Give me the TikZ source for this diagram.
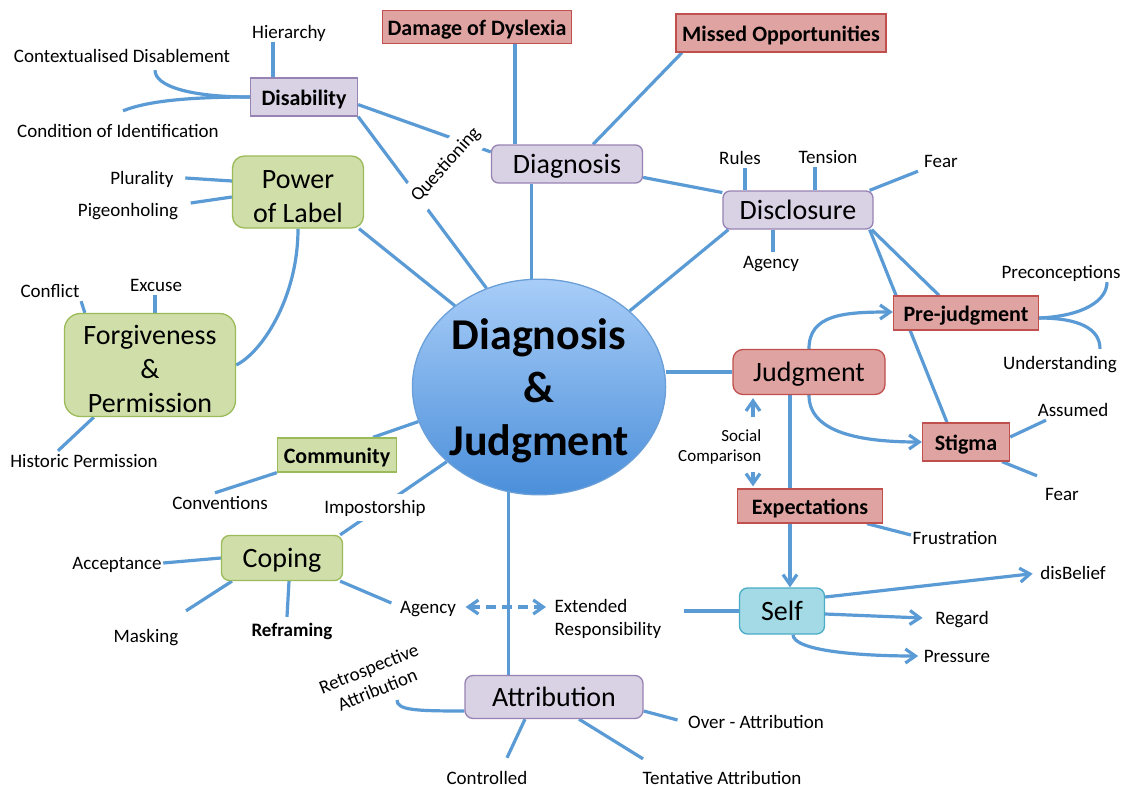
\documentclass[tikz,border=0pt]{standalone}
\usepackage{fontspec}
\setmainfont{Carlito}
\usetikzlibrary{arrows.meta,shapes.geometric}
\pgfdeclarelayer{paper}
\pgfdeclarelayer{edges}
\pgfsetlayers{paper,edges,main}

\definecolor{linkblue}{HTML}{5B9BD5}
\definecolor{pinkfill}{HTML}{DFA3A2}
\definecolor{pinkline}{HTML}{C0504D}
\definecolor{lavfill}{HTML}{D9D1E4}
\definecolor{lavline}{HTML}{9783B3}
\definecolor{greenfill}{HTML}{D0DEAA}
\definecolor{greenline}{HTML}{9BBB59}
\definecolor{cyanfill}{HTML}{A3DAE5}
\definecolor{cyanline}{HTML}{4BACC6}
\definecolor{balltop}{HTML}{A8CDF8}
\definecolor{ballbot}{HTML}{4B8FDA}
\definecolor{ballline}{HTML}{6A9FD8}

\newcommand\labelfs{\fontsize{19}{23}\selectfont}
\newcommand\notefs{\fontsize{17}{20}\selectfont}
\newcommand\headfs{\fontsize{22}{26}\selectfont\bfseries}
\newcommand\bigfs{\fontsize{28}{33.6}\selectfont}
\newcommand\hubfs{\fontsize{44}{53}\selectfont\bfseries}
% extra height on a first line pushes a multi-line block down a little
\newcommand\toplift[1]{\rule{0pt}{#1}}

\begin{document}
\begin{tikzpicture}[x=1pt,y=-1pt,
  conn/.style={draw=linkblue, line width=3.2pt},
  barb/.tip={Straight Barb[length=10pt,width=14pt]},
  tipend/.style={-barb},
  box/.style={draw, line width=1.3pt, inner sep=0pt, align=center},
  pinkbox/.style={box, fill=pinkfill, draw=pinkline},
  lavbox/.style={box, fill=lavfill, draw=lavline},
  greenbox/.style={box, fill=greenfill, draw=greenline},
  cyanbox/.style={box, fill=cyanfill, draw=cyanline},
  headtext/.style={font=\headfs, text height=18pt, text depth=2pt},
  bigtext/.style={font=\bigfs, text height=23pt, text depth=4pt},
  lbl/.style={font=\labelfs, inner sep=1.5pt, text height=15pt, text depth=2pt},
  boldlbl/.style={lbl, font=\labelfs\bfseries},
  note/.style={font=\notefs, inner sep=1.5pt, align=center}]

\begin{pgfonlayer}{paper}
\fill[white] (0,0) rectangle (1125,787);
\end{pgfonlayer}
\useasboundingbox (0,0) rectangle (1125,787);

% hub
\node[ellipse, minimum width=244pt, minimum height=212pt, inner sep=0pt,
      draw=ballline, line width=1.3pt, top color=balltop, bottom color=ballbot,
      font=\hubfs, align=center] (ctr) at (539,387) {\toplift{39pt}Diagnosis\\\&\\Judgment};

% boxes
\node[pinkbox, headtext, minimum width=189pt, minimum height=33pt] (dd) at (477,27) {Damage of Dyslexia};
\node[pinkbox, headtext, minimum width=210pt, minimum height=38pt] (mo) at (781,33) {Missed Opportunities};
\node[lavbox, headtext, minimum width=107pt, minimum height=38pt] (dis) at (304,97) {Disability};
\node[lavbox, rounded corners=7pt, bigtext, minimum width=151pt, minimum height=38pt] (diag) at (567,164) {Diagnosis};
\node[lavbox, rounded corners=7pt, bigtext, minimum width=150pt, minimum height=38pt] (discl) at (798,210) {Disclosure};
\node[pinkbox, headtext, minimum width=145pt, minimum height=34pt] (pre) at (966,313) {Pre-judgment};
\node[pinkbox, rounded corners=10pt, bigtext, minimum width=152pt, minimum height=45pt] (jud) at (809,372) {Judgment};
\node[pinkbox, headtext, minimum width=87pt, minimum height=38pt] (stig) at (966,442) {Stigma};
\node[pinkbox, headtext, minimum width=145pt, minimum height=34pt] (exp) at (810,506) {Expectations};
\node[cyanbox, rounded corners=8pt, bigtext, minimum width=85pt, minimum height=46pt] (self) at (782,611) {Self};
\node[lavbox, rounded corners=8pt, bigtext, minimum width=178pt, minimum height=43pt] (attr) at (554,697) {Attribution};
\node[greenbox, rounded corners=8pt, bigtext, minimum width=121pt, minimum height=45pt] (cop) at (282,558) {Coping};
\node[greenbox, headtext, minimum width=119pt, minimum height=34pt] (com) at (337,455) {Community};
\node[greenbox, rounded corners=16pt, font=\bigfs, minimum width=171pt, minimum height=103pt] (fp) at (150,365) {\toplift{27pt}Forgiveness\\\&\\Permission};
\node[greenbox, rounded corners=12pt, font=\bigfs, minimum width=131pt, minimum height=72pt] (pol) at (298,192) {\toplift{27pt}Power\\of Label};

% plain labels
\node[lbl] (hier) at (289,32) {Hierarchy};
\node[lbl] (ctx) at (122,56) {Contextualised Disablement};
\node[lbl] (cond) at (118,131) {Condition of Identification};
\node[lbl] (plur) at (142,178) {Plurality};
\node[lbl] (pig) at (128,210) {Pigeonholing};
\node[lbl] (conf) at (50,291) {Conflict};
\node[lbl] (excuse) at (156,285) {Excuse};
\node[lbl] (hist) at (84,461) {Historic Permission};
\node[lbl] (conv) at (220,503) {Conventions};
\node[lbl] (accept) at (117,563) {Acceptance};
\node[lbl] (mask) at (146,636) {Masking};
\node[boldlbl] (refr) at (292,630) {Reframing};
\node[lbl] (agencyB) at (428,607) {Agency};
\node[font=\labelfs, inner sep=1.5pt, align=left, anchor=west] (ext) at (553,619) {Extended\\Responsibility};
\node[lbl] (ctrl) at (487,778) {Controlled};
\node[lbl] (tent) at (722,778) {Tentative Attribution};
\node[lbl] (over) at (756,722) {Over - Attribution};
\node[font=\labelfs, inner sep=1.5pt, align=center, rotate=22] (retro) at (373,679) {Retrospective\\Attribution};
\node[lbl] (rules) at (740,158) {Rules};
\node[lbl] (tension) at (828,157) {Tension};
\node[lbl] (fear) at (941,161) {Fear};
\node[lbl] (agencyA) at (771,262) {Agency};
\node[lbl] (precon) at (1061,272) {Preconceptions};
\node[lbl] (under) at (1060,363) {Understanding};
\node[lbl] (assumed) at (1073,410) {Assumed};
\node[lbl] (fearB) at (1062,494) {Fear};
\node[note, align=right, anchor=east] (soc) at (763,447) {Social\\Comparison};
\node[lbl] (frus) at (955,538) {Frustration};
\node[lbl] (disb) at (1073,573) {disBelief};
\node[lbl] (reg) at (962,618) {Regard};
\node[lbl] (press) at (957,656) {Pressure};

% labels sitting on a connector
\node[font=\labelfs, fill=white, inner xsep=4pt, inner ysep=8pt, rotate=48] (quest) at (446,165) {Questioning};
\node[lbl, fill=white, inner ysep=5pt] (imp) at (375,507) {Impostorship};

\coordinate (retroEnd) at (397,700);
\coordinate (extEnd) at (684,611);

\begin{pgfonlayer}{edges}
% Disability
\draw[conn] ([xshift=-16pt]hier.south) -- ([xshift=-31pt]dis.north);
\draw[conn] ([xshift=33pt,yshift=-4pt]ctx.south) .. controls +(0,16) and +(-60,0) .. (dis.west);
\draw[conn] ([xshift=5pt,yshift=10pt]cond.north) .. controls +(25,-10) and +(-60,0) .. (dis.west);
\draw[conn] (dis.-8) -- (diag.171);
\draw[conn] (dis.south east) -- (ctr.118);
% Diagnosis
\draw[conn] ([xshift=-52pt]diag.north) -- ([xshift=38pt]dd.south);
\draw[conn] ([xshift=26pt]diag.north) -- ([xshift=-99pt]mo.south);
\draw[conn] (ctr.94) -- (ctr.94 |- diag.south);
\draw[conn] (diag.-10) -- (discl.167);
% Disclosure
\draw[conn] ([xshift=5pt]rules.south) -- ([xshift=-53pt]discl.north);
\draw[conn] ([xshift=-13pt]tension.south) -- ([xshift=17pt]discl.north);
\draw[conn] ([xshift=-23pt]fear.south) -- ([xshift=-4pt]discl.north east);
\draw[conn] ([xshift=-25pt]discl.south) -- ([xshift=2pt]agencyA.north);
\draw[conn] ([xshift=6pt]discl.south west) -- (ctr.40);
\draw[conn] ([xshift=-2pt]discl.south east) -- ([xshift=-27pt]pre.north);
\draw[conn] ([xshift=-4pt]discl.south east) -- ([xshift=-19pt]stig.north);
% Pre-judgment
\draw[conn] ([yshift=-5pt]pre.east) .. controls +(45,-2) and +(0,18) .. ([xshift=46pt]precon.south);
\draw[conn] ([yshift=-5pt]pre.east) .. controls +(40,0) and +(0,-20) .. ([xshift=40pt,yshift=4pt]under.north);
% Judgment
\draw[conn] (jud.west -| ctr.east) -- (jud.west);
\draw[conn, tipend] (jud.north) .. controls +(0,-34) and +(-50,0) .. ([yshift=1pt]pre.west);
\draw[conn, tipend] (jud.south) .. controls +(0,38) and +(-60,0) .. (stig.west);
\draw[conn] ([xshift=-19pt]jud.south) -- ([xshift=-20pt]exp.north);
\draw[conn, tipend] ([xshift=-10pt,yshift=11pt]soc.north east) -- ([xshift=-56pt,yshift=-3pt]jud.south);
\draw[conn, tipend] ([xshift=-10pt,yshift=-6pt]soc.south east) -- ([xshift=-57pt,yshift=2pt]exp.north);
% Stigma
\draw[conn] ([yshift=5pt]stig.east) -- ([xshift=-27pt]assumed.south);
\draw[conn] ([xshift=36pt]stig.south) -- ([xshift=-25pt,yshift=8pt]fearB.north);
% Expectations and Self
\draw[conn] ([xshift=57pt]exp.south) -- ([yshift=3pt]frus.west);
\draw[conn, tipend] ([xshift=-20pt]exp.south) -- ([xshift=8pt]self.north);
\draw[conn, tipend, shorten >=6pt] ([yshift=14pt]self.east) -- (disb.west);
\draw[conn, tipend] ([yshift=-3pt]self.east) -- ([xshift=-11pt]reg.west);
\draw[conn, tipend] ([xshift=11pt]self.south) .. controls +(0,16) and +(-60,0) .. ([xshift=-4pt]press.west);
\draw[conn] (self.west) -- (extEnd);
\draw[conn, dash pattern=on 10pt off 6pt, barb-barb]
      ([xshift=8pt]agencyB.east) -- ([xshift=-7pt]agencyB.east -| ext.west);
% Coping
\draw[conn] ([xshift=-3pt]cop.south east) -- ([xshift=-7pt,yshift=4pt]agencyB.west);
\draw[conn] (accept.east) -- (cop.west);
\draw[conn] ([xshift=-50pt]cop.south) -- ([xshift=6pt,yshift=15pt]mask.north east);
\draw[conn] ([xshift=7pt]cop.south) -- ([xshift=-5pt,yshift=3pt]refr.north);
\draw[conn] (ctr.219) -- ([xshift=-3pt]cop.north east);
% Community
\draw[conn] (ctr.196) -- ([xshift=36pt]com.north);
\draw[conn] (com.south west) -- ([xshift=-5pt]conv.north);
% Power of Label
\draw[conn] ([xshift=10pt]plur.east) -- ([yshift=11pt]pol.west);
\draw[conn] ([xshift=11pt,yshift=7pt]pig.east) -- ([yshift=-5pt]pol.west);
\draw[conn] (pol.-31) -- (ctr.136);
\draw[conn] (pol.south) .. controls +(0,70) and +(25,-12) .. (fp.east);
% Forgiveness & Permission
\draw[conn] (conf.south east) -- ([xshift=21pt]fp.north west);
\draw[conn] ([xshift=-1pt]excuse.south) -- ([xshift=5pt]fp.north);
\draw[conn] ([xshift=30pt]fp.south west) -- ([xshift=-26pt]hist.north);
% Attribution
\draw[conn] (ctr.254) -- (ctr.254 |- attr.north);
\draw[conn] ([yshift=-14pt]attr.west) .. controls +(-50,0) and +(0,10) .. (retroEnd);
\draw[conn] ([xshift=-29pt]attr.south) -- ([xshift=20pt,yshift=10pt]ctrl.north);
\draw[conn] ([yshift=-14pt]attr.east) -- ([xshift=-9pt,yshift=2pt]over.west);
\draw[conn] ([xshift=25pt]attr.south) -- ([xshift=-79pt,yshift=9pt]tent.north);
\end{pgfonlayer}
\end{tikzpicture}
\end{document}
